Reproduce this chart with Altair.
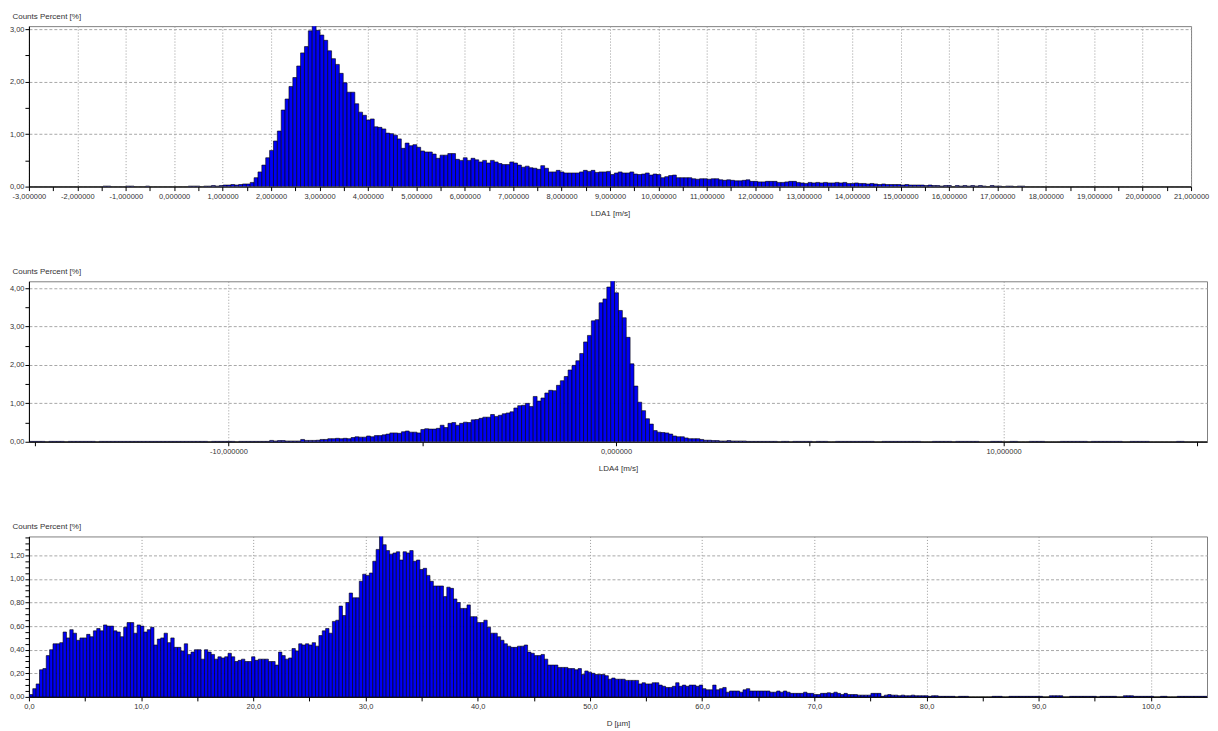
import altair as alt
import pandas as pd

# ---------------- data ----------------
LDA1_START = -3.0
LDA1_BIN = 0.08
LDA1_VALUES = [
    0, 0, 0, 0, 0, 0, 0, 0, 0, 0,
    0, 0, 0, 0, 0, 0, 0, 0, 0, 0.01,
    0.01, 0, 0, 0, 0, 0.01, 0.01, 0, 0, 0,
    0.01, 0, 0, 0, 0, 0, 0, 0, 0, 0,
    0, 0.01, 0.01, 0.01, 0, 0.01, 0.01, 0.02, 0.01, 0.02,
    0.03, 0.03, 0.04, 0.03, 0.04, 0.05, 0.05, 0.08, 0.17, 0.28,
    0.41, 0.55, 0.69, 0.87, 1.06, 1.46, 1.67, 1.91, 2.08, 2.30,
    2.55, 2.67, 2.97, 3.10, 2.98, 2.89, 2.79, 2.59, 2.44, 2.33,
    2.16, 1.98, 1.80, 1.80, 1.58, 1.42, 1.36, 1.27, 1.29, 1.14,
    1.13, 1.10, 1.02, 1.01, 0.98, 0.91, 0.73, 0.83, 0.78, 0.80,
    0.75, 0.68, 0.66, 0.66, 0.62, 0.54, 0.60, 0.60, 0.63, 0.63,
    0.52, 0.50, 0.55, 0.50, 0.54, 0.51, 0.47, 0.50, 0.45, 0.50,
    0.47, 0.44, 0.42, 0.42, 0.47, 0.45, 0.41, 0.37, 0.39, 0.36,
    0.35, 0.33, 0.40, 0.35, 0.28, 0.28, 0.31, 0.28, 0.26, 0.26,
    0.26, 0.26, 0.28, 0.31, 0.29, 0.31, 0.27, 0.28, 0.28, 0.29,
    0.23, 0.26, 0.28, 0.26, 0.26, 0.28, 0.24, 0.23, 0.24, 0.26,
    0.22, 0.24, 0.23, 0.17, 0.19, 0.21, 0.22, 0.17, 0.17, 0.17,
    0.17, 0.15, 0.14, 0.15, 0.15, 0.14, 0.15, 0.15, 0.13, 0.12,
    0.13, 0.12, 0.11, 0.11, 0.12, 0.13, 0.10, 0.10, 0.09, 0.09,
    0.10, 0.10, 0.10, 0.08, 0.08, 0.09, 0.10, 0.10, 0.08, 0.07,
    0.06, 0.08, 0.07, 0.08, 0.07, 0.08, 0.07, 0.07, 0.08, 0.07,
    0.08, 0.06, 0.06, 0.07, 0.06, 0.06, 0.05, 0.06, 0.05, 0.04,
    0.05, 0.04, 0.04, 0.04, 0.04, 0.03, 0.04, 0.03, 0.03, 0.03,
    0.03, 0.02, 0.03, 0.02, 0.02, 0.01, 0.02, 0.02, 0, 0.02,
    0.01, 0.02, 0.01, 0.02, 0.01, 0.02, 0.01, 0, 0.02, 0.01,
    0.01, 0, 0.01, 0.01, 0, 0.01, 0.01, 0, 0, 0,
    0, 0, 0, 0, 0, 0, 0, 0, 0, 0,
    0, 0, 0, 0, 0, 0, 0, 0, 0, 0,
    0, 0, 0, 0, 0, 0, 0, 0, 0, 0,
    0, 0, 0, 0, 0, 0, 0, 0, 0, 0,
]

LDA4_START = -15.15
LDA4_BIN = 0.1
LDA4_VALUES = [
    0.01, 0.01, 0.01, 0.01, 0, 0.01, 0.01, 0.01, 0.01, 0,
    0.01, 0.01, 0.01, 0.01, 0.01, 0.01, 0.01, 0, 0.01, 0.01,
    0.01, 0.01, 0.01, 0.01, 0.01, 0.01, 0.01, 0.01, 0.01, 0.01,
    0.01, 0.01, 0.01, 0.01, 0.01, 0.01, 0.01, 0.01, 0.01, 0.01,
    0.01, 0.01, 0.01, 0.01, 0.01, 0.01, 0, 0.01, 0.01, 0.01,
    0.01, 0.01, 0.01, 0, 0.01, 0.01, 0.01, 0.01, 0.01, 0.01,
    0.01, 0.01, 0.035, 0.02, 0.03, 0.03, 0.02, 0.02, 0.02, 0.02,
    0.06, 0.035, 0.035, 0.035, 0.04, 0.06, 0.06, 0.08, 0.08, 0.09,
    0.08, 0.09, 0.08, 0.11, 0.13, 0.12, 0.12, 0.15, 0.13, 0.16,
    0.16, 0.18, 0.20, 0.23, 0.23, 0.22, 0.26, 0.28, 0.25, 0.25,
    0.23, 0.32, 0.34, 0.33, 0.33, 0.35, 0.43, 0.37, 0.48, 0.50,
    0.43, 0.48, 0.51, 0.50, 0.57, 0.58, 0.61, 0.64, 0.64, 0.71,
    0.66, 0.69, 0.73, 0.75, 0.78, 0.88, 0.94, 0.95, 1.00, 0.92,
    1.18, 1.06, 1.14, 1.27, 1.34, 1.33, 1.47, 1.59, 1.70, 1.87,
    1.99, 2.11, 2.30, 2.60, 2.77, 3.15, 3.18, 3.62, 3.72, 4.03,
    4.30, 3.88, 3.42, 3.23, 2.72, 2.03, 1.45, 1.03, 0.81, 0.60,
    0.46, 0.29, 0.25, 0.24, 0.23, 0.20, 0.15, 0.13, 0.13, 0.10,
    0.08, 0.08, 0.08, 0.06, 0.04, 0.04, 0.03, 0.03, 0.02, 0.02,
    0.03, 0.02, 0.02, 0.02, 0.02, 0.01, 0.01, 0.01, 0.01, 0.01,
    0.01, 0.01, 0.01, 0, 0.01, 0.01, 0, 0.01, 0.01, 0.01,
    0.01, 0.01, 0, 0.01, 0.01, 0.01, 0, 0, 0.01, 0.01,
    0.01, 0.01, 0.01, 0.01, 0.01, 0.01, 0.01, 0.01, 0, 0,
    0.01, 0.01, 0.01, 0.01, 0.01, 0.01, 0.01, 0.01, 0.01, 0.01,
    0, 0, 0, 0.01, 0.01, 0.01, 0.01, 0.01, 0, 0.01,
    0.01, 0.01, 0.01, 0.01, 0.01, 0, 0, 0, 0.01, 0.01,
    0.01, 0, 0, 0.01, 0.01, 0, 0, 0, 0.01, 0.01,
    0.01, 0.01, 0, 0, 0, 0, 0.01, 0.01, 0.01, 0.01,
    0.01, 0.01, 0.01, 0, 0.01, 0.01, 0.01, 0.01, 0.01, 0.01,
    0.01, 0.01, 0, 0, 0.01, 0.01, 0.01, 0.01, 0.01, 0,
    0, 0, 0, 0, 0, 0, 0.01, 0.01, 0, 0,
    0, 0, 0, 0,
]

D_START = 0.0
D_BIN = 0.3
D_VALUES = [
    0.02, 0.07, 0.11, 0.23, 0.24, 0.35, 0.40, 0.45, 0.45, 0.46,
    0.55, 0.50, 0.57, 0.54, 0.48, 0.50, 0.50, 0.53, 0.51, 0.56,
    0.58, 0.56, 0.61, 0.60, 0.60, 0.56, 0.55, 0.51, 0.59, 0.63,
    0.63, 0.54, 0.61, 0.60, 0.55, 0.57, 0.59, 0.44, 0.49, 0.50,
    0.54, 0.46, 0.50, 0.42, 0.42, 0.39, 0.45, 0.36, 0.38, 0.40,
    0.40, 0.32, 0.40, 0.38, 0.36, 0.32, 0.34, 0.33, 0.34, 0.37,
    0.34, 0.30, 0.31, 0.32, 0.30, 0.30, 0.34, 0.31, 0.32, 0.32,
    0.32, 0.30, 0.30, 0.27, 0.38, 0.35, 0.32, 0.33, 0.41, 0.39,
    0.45, 0.44, 0.45, 0.44, 0.46, 0.43, 0.52, 0.56, 0.58, 0.54,
    0.64, 0.65, 0.77, 0.69, 0.80, 0.88, 0.84, 0.84, 0.98, 1.04,
    1.03, 1.05, 1.15, 1.25, 1.40, 1.29, 1.24, 1.21, 1.22, 1.23,
    1.16, 1.23, 1.22, 1.24, 1.15, 1.16, 1.08, 1.09, 1.03, 0.98,
    0.94, 0.94, 0.94, 0.85, 0.93, 0.92, 0.83, 0.80, 0.75, 0.75,
    0.78, 0.68, 0.68, 0.63, 0.63, 0.65, 0.59, 0.54, 0.54, 0.51,
    0.48, 0.45, 0.43, 0.42, 0.42, 0.43, 0.43, 0.44, 0.38, 0.37,
    0.35, 0.35, 0.36, 0.32, 0.27, 0.27, 0.27, 0.25, 0.25, 0.25,
    0.24, 0.24, 0.23, 0.24, 0.19, 0.22, 0.21, 0.20, 0.19, 0.19,
    0.19, 0.18, 0.15, 0.16, 0.15, 0.15, 0.15, 0.14, 0.14, 0.14,
    0.14, 0.11, 0.12, 0.11, 0.11, 0.12, 0.12, 0.10, 0.09, 0.08,
    0.08, 0.09, 0.12, 0.09, 0.10, 0.09, 0.10, 0.10, 0.09, 0.10,
    0.07, 0.06, 0.06, 0.10, 0.06, 0.07, 0.08, 0.04, 0.05, 0.05,
    0.05, 0.04, 0.06, 0.07, 0.05, 0.05, 0.05, 0.05, 0.05, 0.05,
    0.04, 0.04, 0.05, 0.04, 0.05, 0.04, 0.03, 0.03, 0.03, 0.03,
    0.04, 0.03, 0.03, 0.02, 0.02, 0.03, 0.03, 0.035, 0.03, 0.04,
    0.03, 0.02, 0.03, 0.02, 0.02, 0.02, 0.015, 0.015, 0.015, 0.015,
    0.03, 0.03, 0.03, 0.005, 0.015, 0.02, 0.015, 0.015, 0.01, 0.015,
    0.01, 0.01, 0.015, 0.01, 0.01, 0.01, 0.01, 0.005, 0.01, 0.01,
    0.005, 0.005, 0.005, 0.005, 0.005, 0, 0.005, 0.005, 0.005, 0,
    0, 0, 0, 0, 0, 0, 0.005, 0.005, 0.005, 0,
    0, 0.005, 0.005, 0.005, 0.005, 0.005, 0.005, 0.005, 0.005, 0.005,
    0.005, 0, 0, 0.01, 0.01, 0.01, 0.01, 0, 0, 0.005,
    0.005, 0.005, 0.005, 0.005, 0.005, 0.005, 0.005, 0, 0.005, 0.005,
    0.005, 0.005, 0.005, 0, 0, 0.01, 0.01, 0.01, 0.005, 0.005,
    0.005, 0.005, 0.005, 0.005, 0, 0, 0.005, 0.005, 0, 0,
    0, 0.005, 0.005, 0.005, 0.005, 0.005, 0.005, 0.005, 0.005, 0.005,
]

# axis tick values / labels
LDA1_MAJOR = list(range(-3, 22))
LDA1_MINOR = [v + 0.5 for v in range(-3, 21)]
LDA1_YMAJOR = [0, 1, 2, 3]
LDA1_YMINOR = [0.5, 1.5, 2.5]

LDA4_MAJOR = [-10, 0, 10]
LDA4_MINOR = [-15, -5, 5, 15]
LDA4_YMAJOR = [0, 1, 2, 3, 4]
LDA4_YMINOR = [0.5, 1.5, 2.5, 3.5]

D_MAJOR = [0, 10, 20, 30, 40, 50, 60, 70, 80, 90, 100]
D_MINOR = [5, 15, 25, 35, 45, 55, 65, 75, 85, 95]
D_YMAJOR = [0, 0.2, 0.4, 0.6, 0.8, 1.0, 1.2]
D_YMINOR = [0.05, 0.1, 0.15, 0.25, 0.3, 0.35, 0.45, 0.5, 0.55, 0.65, 0.7, 0.75,
            0.85, 0.9, 0.95, 1.05, 1.1, 1.15, 1.25, 1.3, 1.35]

FONT = "Liberation Sans"
BLUE = "#0000F5"


def frame(start, width, values):
    return pd.DataFrame({
        "x0": [start + i * width for i in range(len(values))],
        "x1": [start + (i + 1) * width for i in range(len(values))],
        "v": values,
    })


def fmt_expr(spec):
    return ("replace(replace(format(datum.value, '" + spec + "'), '.', ','), '\u2212', '-')")


def panel(df, xdom, ydom, w, h, xtitle, xmaj, xmin, ymaj, ymin, xfmt):
    xs = alt.Scale(domain=xdom, nice=False, zero=False)
    ys = alt.Scale(domain=ydom, nice=False, zero=True)
    bars = alt.Chart(df).mark_bar(
        color=BLUE, stroke="#000000", strokeWidth=0.6, clip=True, binSpacing=0
    ).encode(
        x=alt.X("x0:Q", bin="binned", scale=xs, axis=alt.Axis(
            values=xmaj, labelExpr=fmt_expr(xfmt), title=xtitle, orient="bottom",
            grid=True, gridDash=[1, 2], gridColor="#9a9a9a", gridWidth=1,
            titlePadding=9, labelPadding=2, labelFlush=False, labelOverlap=False)),
        x2="x1:Q",
        y=alt.Y("v:Q", scale=ys, axis=alt.Axis(
            values=ymaj, labelExpr=fmt_expr(".2f"), title="Counts Percent [%]",
            orient="left", titleAngle=0, titleAlign="left",
            titleBaseline="alphabetic", titleX=-17, titleY=-8,
            grid=True, gridDash=[3, 2], gridColor="#a8a8a8", gridWidth=1,
            labelPadding=1, labelOverlap=False)),
        y2=alt.datum(0),
    )
    minor = alt.Chart(df).mark_bar(opacity=0, binSpacing=0).encode(
        x=alt.X("x0:Q", bin="binned", scale=xs, axis=alt.Axis(
            values=xmin, labels=False, title=None, grid=False, domain=False,
            orient="bottom")),
        x2="x1:Q",
        y=alt.Y("v:Q", scale=ys, axis=alt.Axis(
            values=ymin, labels=False, title=None, grid=False, domain=False,
            orient="left")),
        y2=alt.datum(0),
    )
    return alt.layer(bars, minor).resolve_axis(
        x="independent", y="independent"
    ).properties(width=w, height=h)


p1 = panel(frame(LDA1_START, LDA1_BIN, LDA1_VALUES), [-3, 21], [0, 3.06], 1166, 161,
           "LDA1 [m/s]", LDA1_MAJOR, LDA1_MINOR, LDA1_YMAJOR, LDA1_YMINOR, ".6f")
p2 = panel(frame(LDA4_START, LDA4_BIN, LDA4_VALUES), [-15.15, 15.25], [0, 4.18], 1182, 161,
           "LDA4 [m/s]", LDA4_MAJOR, LDA4_MINOR, LDA4_YMAJOR, LDA4_YMINOR, ".6f")
p3 = panel(frame(D_START, D_BIN, D_VALUES), [0, 105], [0, 1.36], 1182, 161,
           "D [\u00b5m]", D_MAJOR, D_MINOR, D_YMAJOR, D_YMINOR, ".1f")

chart = alt.vconcat(p1, p2, p3, spacing=95, bounds="flush").properties(
    padding={"left": 0, "top": 2, "right": 0, "bottom": 0},
    background="#ffffff",
).configure_view(
    stroke="#808080", strokeWidth=1
).configure_axis(
    labelFont=FONT, labelFontSize=7.5, labelColor="#333333",
    titleFont=FONT, titleFontSize=8, titleColor="#333333", titleFontWeight="normal",
    tickColor="#000000", tickSize=4, domainColor="#000000", domainWidth=1,
)

chart.save("out.html", embed_options={"renderer": "svg", "actions": False})
